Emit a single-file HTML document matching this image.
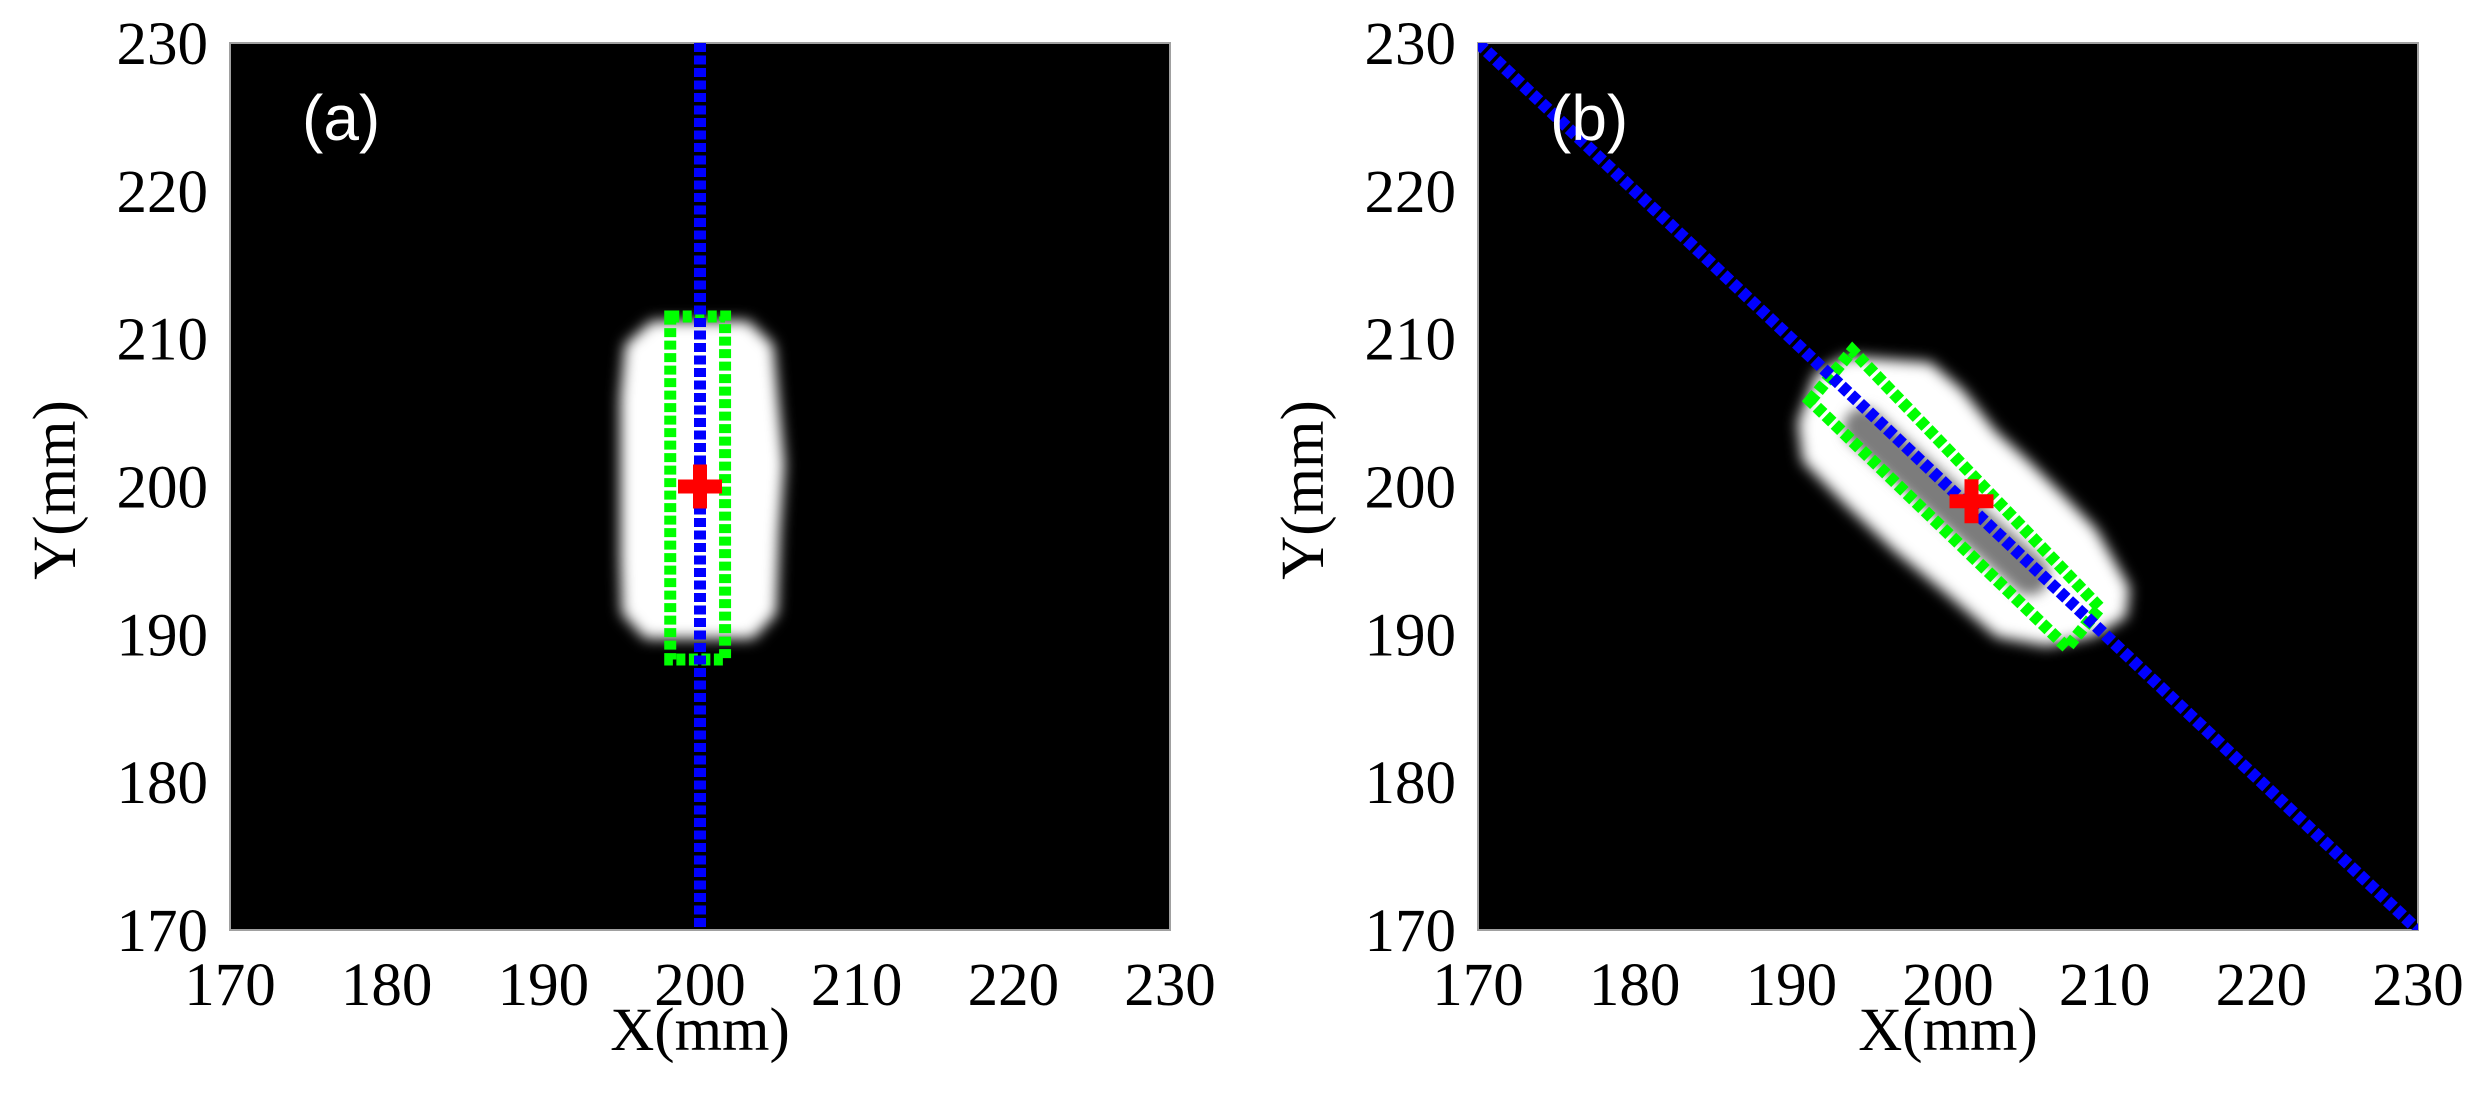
<!DOCTYPE html>
<html><head><meta charset="utf-8"><style>
html,body{margin:0;padding:0;background:#fff;}
svg{display:block;}
text{font-family:"Liberation Serif",serif;fill:#000;}
</style></head><body>
<svg id="fig" width="2477" height="1112" viewBox="0 0 2477 1112" xmlns="http://www.w3.org/2000/svg">
<defs>
<filter id="blur" x="-30%" y="-30%" width="160%" height="160%"><feGaussianBlur stdDeviation="7"/></filter>
<filter id="blur2" x="-50%" y="-50%" width="200%" height="200%"><feGaussianBlur stdDeviation="6"/></filter>
</defs>
</svg>
<script>
// ---- data (mm) ----
const xTicks = [170,180,190,200,210,220,230];
const yTicks = [170,180,190,200,210,220,230];
const panelLabels = ['(a)','(b)'];
// panel a
const blobA = [[197,211],[203,211],[204.5,209.5],[204.8,206],[205.2,201.5],[204.9,197],[204.7,191.5],[203.3,189.9],[196.6,189.9],[195.2,191.5],[195.1,195],[195.1,206],[195.4,209.5]];
const coreA = [[199.9,205.5],[199.9,195]];
const blueA = [[200,230],[200,170]];
const greenA = [[198.1,211.5],[201.6,211.5],[201.6,188.3],[198.1,188.3]];
const centerA = [200,200];
// panel b
const blobB = [[190.6,204.3],[191.7,207.5],[193.6,208.6],[198.8,208.2],[200.8,206.4],[202.9,203.6],[205,201.6],[207.2,199.3],[209.3,197],[211.4,193.1],[211.2,191.3],[209.3,190.1],[206.3,189.4],[203.2,190],[199.9,193],[196.7,195.8],[193.6,198.9],[190.9,201.8]];
const coreB = [[194.6,204.0],[205.2,194.0]];
const blueB = [[170,230],[230,170]];
const greenB = [[191.2,205.8],[193.9,209.2],[209.7,191.8],[207.6,189.1]];
const centerB = [201.5,199];

const NS='http://www.w3.org/2000/svg';
const svg=document.getElementById('fig');
function mk(tag,attrs,parent){const e=document.createElementNS(NS,tag);for(const k in attrs)e.setAttribute(k,attrs[k]);(parent||svg).appendChild(e);return e;}

const panels=[
 {x0:230,blob:blobA,core:coreA,blue:blueA,green:greenA,center:centerA,name:'a',cw:34},
 {x0:1478,blob:blobB,core:coreB,blue:blueB,green:greenB,center:centerB,name:'b',cw:40}
];
const W=940,H=887,Y0=43;
panels.forEach((p,i)=>{
 const sx=v=>p.x0+(v-170)/60*W;
 const sy=v=>Y0+(230-v)/60*H;
 const g=mk('g',{});
 
 
 const clipId='clip'+i;
 const cp=mk('clipPath',{id:clipId},svg.querySelector('defs'));
 mk('rect',{x:p.x0,y:Y0,width:W,height:H},cp);
 const bg=mk('rect',{x:p.x0,y:Y0,width:W,height:H,fill:'#000',stroke:'#a0a0a0','stroke-width':2},g);
 
 
 const inner=mk('g',{'clip-path':'url(#'+clipId+')'},g);
 const blob=mk('polygon',{points:p.blob.map(q=>sx(q[0])+','+sy(q[1])).join(' '),fill:'#fff',stroke:'#fff','stroke-width':6,'stroke-linejoin':'round',filter:'url(#blur)'},inner);
 
 
 const core=mk('line',{x1:sx(p.core[0][0]),y1:sy(p.core[0][1]),x2:sx(p.core[1][0]),y2:sy(p.core[1][1]),stroke:'#7c7c7c','stroke-width':p.cw,'stroke-linecap':'round',filter:'url(#blur2)'},inner);
 
 
 const green=mk('polygon',{points:p.green.map(q=>sx(q[0])+','+sy(q[1])).join(' '),fill:'none',stroke:'#00ff00','stroke-width':12,'stroke-dasharray':'9 3.5'},inner);
 
 
 const blue=mk('line',{x1:sx(p.blue[0][0]),y1:sy(p.blue[0][1]),x2:sx(p.blue[1][0]),y2:sy(p.blue[1][1]),stroke:'#0000ff','stroke-width':12,'stroke-dasharray':'9 3.5'},inner);
 
 
 const cx=sx(p.center[0]),cy=sy(p.center[1]);
 const cross=mk('path',{d:`M${cx-22},${cy}H${cx+22}M${cx},${cy-22}V${cy+22}`,stroke:'#ff0000','stroke-width':14},inner);
 
 
 const lab=mk('text',{x:p.x0+72,y:140,'font-size':64,style:'font-family:"Liberation Sans",sans-serif;fill:#fff'},g);
 lab.textContent=panelLabels[i];
 
 
 xTicks.forEach(t=>{
  const e=mk('text',{x:sx(t),y:1005,'font-size':61,'text-anchor':'middle'},g);
  e.textContent=t;
  
  
 });
 yTicks.forEach(t=>{
  const e=mk('text',{x:p.x0-22,y:sy(t)+21,'font-size':61,'text-anchor':'end'},g);
  e.textContent=t;
  
  
 });
 const xt=mk('text',{x:p.x0+W/2,y:1050,'font-size':61,'text-anchor':'middle'},g);
 xt.textContent='X(mm)';
 
 
 const ytx=p.x0-175+20;
 const yt=mk('text',{x:ytx,y:490,'font-size':61,'text-anchor':'middle',transform:`rotate(-90 ${ytx} 490)`},g);
 yt.textContent='Y(mm)';
 
 
});
</script>
</body></html>
